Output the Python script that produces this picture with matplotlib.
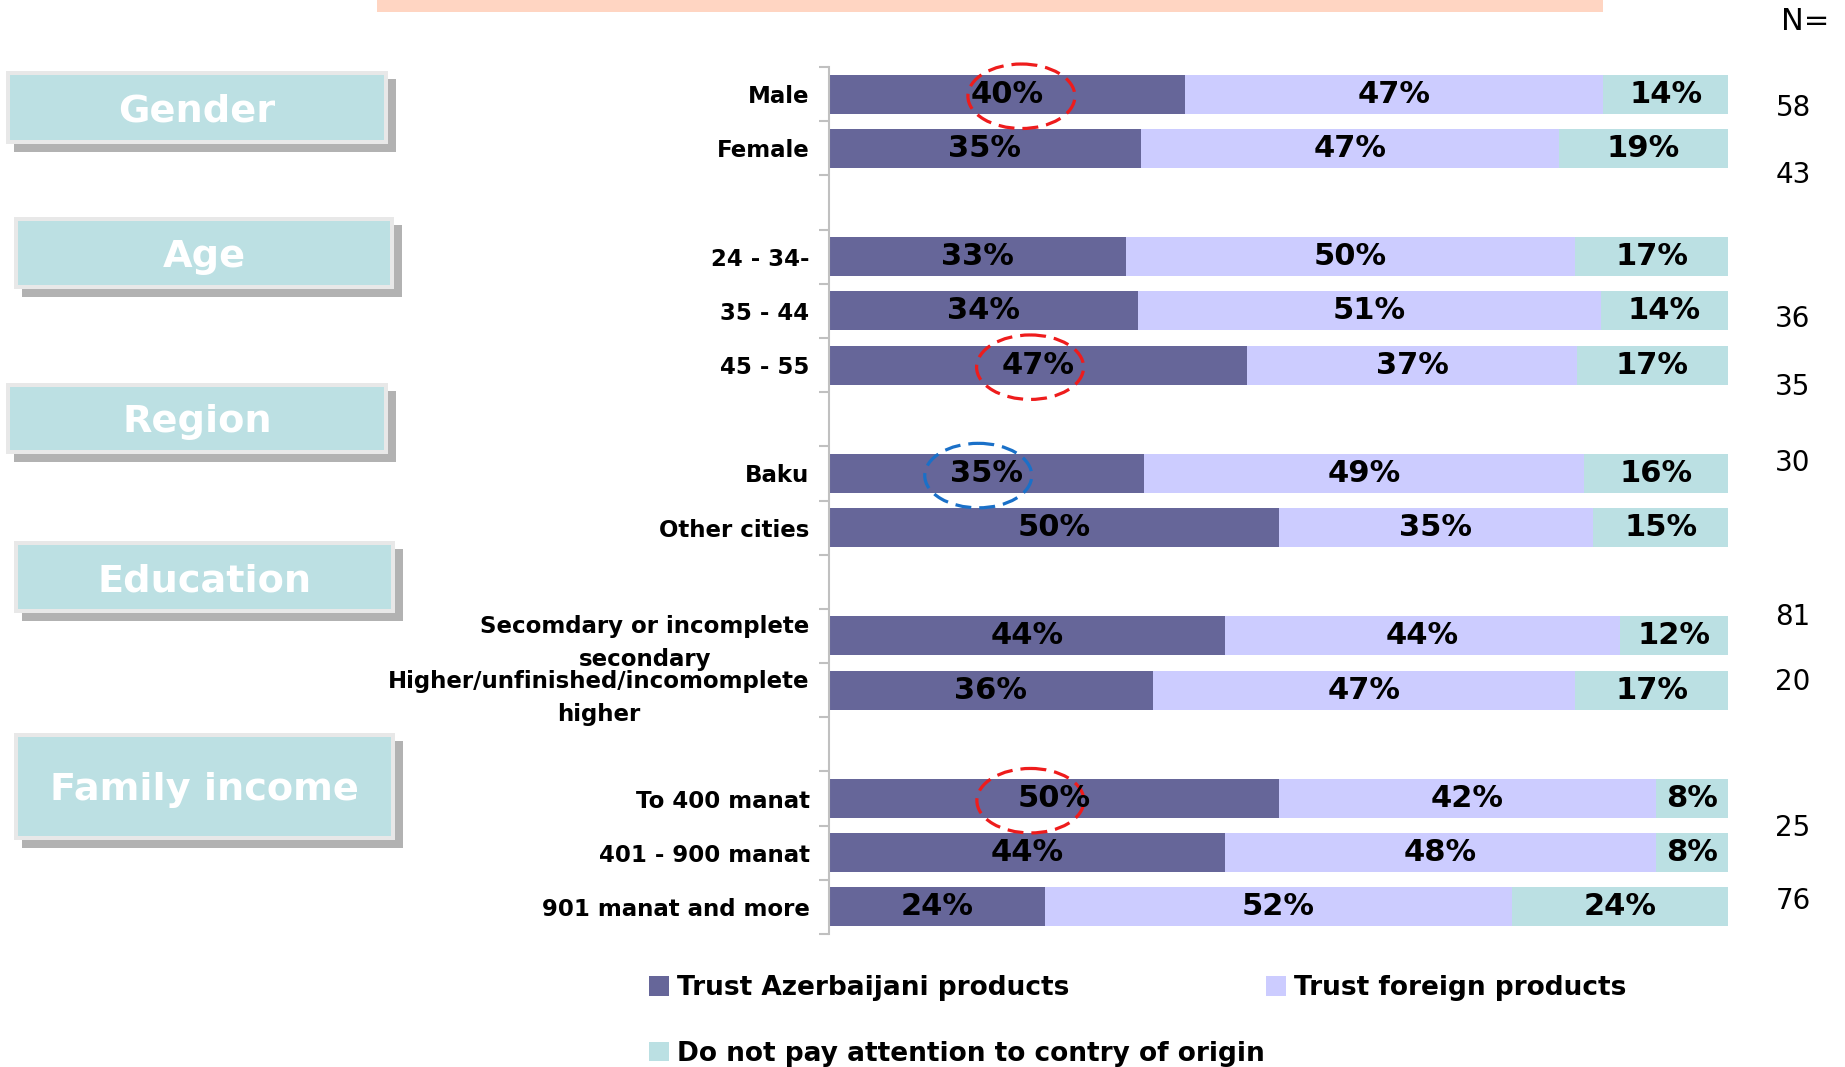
import matplotlib
matplotlib.use("Agg")
import matplotlib.pyplot as plt
from matplotlib.patches import Rectangle, Ellipse, Patch
import numpy as np

# ---------------- data ----------------
categories = ["Male", "Female", "24 - 34-", "35 - 44", "45 - 55", "Baku", "Other cities",
              "Secomdary or incomplete\nsecondary", "Higher/unfinished/incomomplete\nhigher",
              "To 400 manat", "401 - 900 manat", "901 manat and more"]
row_slots = [0, 1, 3, 4, 5, 7, 8, 10, 11, 13, 14, 15]
trust_az = [40, 35, 33, 34, 47, 35, 50, 44, 36, 50, 44, 24]
trust_foreign = [47, 47, 50, 51, 37, 49, 35, 44, 47, 42, 48, 52]
no_attention = [14, 19, 17, 14, 17, 16, 15, 12, 17, 8, 8, 24]
series_names = ["Trust Azerbaijani products", "Trust foreign products",
                "Do not pay attention to contry of origin"]
group_names = ["Gender", "Age", "Region", "Education", "Family income"]
n_values = ["58", "43", "36", "35", "30", "81", "20", "25", "76"]
n_slot_pos = [0.26, 1.5, 4.15, 5.4, 6.8, 9.65, 10.85, 13.54, 14.9]
highlight_rows = [0, 4, 5, 9]
highlight_colors = ["#ee1c1c", "#ee1c1c", "#1a70c8", "#ee1c1c"]
highlight_dx = [0.016, -0.009, -0.009, -0.026]

colors = ["#666699", "#CCCCFF", "#BBE0E3"]

W, H = 1845, 1067
fig = plt.figure(figsize=(W / 100, H / 100), dpi=100)

def fx(px):
    return px / W

def fy(py):
    return 1 - py / H

# axes
ax_left, ax_right, ax_top, ax_bot = 829, 1728, 67, 934
ax = fig.add_axes([fx(ax_left), fy(ax_bot), fx(ax_right - ax_left), (ax_bot - ax_top) / H])

vals = np.array([trust_az, trust_foreign, no_attention], dtype=float)
totals = vals.sum(axis=0)
norm = vals / totals
y = np.array(row_slots, dtype=float)
left = np.zeros(len(categories))
for i in range(3):
    c = ax.barh(y, norm[i], left=left, height=0.72, color=colors[i], label=series_names[i])
    ax.bar_label(c, labels=[f"{int(v)}%" for v in vals[i]], label_type="center",
                 fontsize=22, fontweight="bold", color="black")
    left = left + norm[i]

ax.set_xlim(0, 1)
ax.set_ylim(15.5, -0.5)
for s in ["top", "right", "bottom"]:
    ax.spines[s].set_visible(False)
ax.spines["left"].set_color("#c0c0c0")
ax.spines["left"].set_linewidth(1.5)
ax.set_xticks([])
ax.set_yticks(y)
ax.set_yticklabels(categories, fontsize=16.5, fontweight="bold", linespacing=1.55)
for lbl in ax.get_yticklabels():
    lbl.set_multialignment("center")
ax.tick_params(axis="y", which="major", length=0, pad=14)
ax.set_yticks(np.arange(-0.5, 16, 1.0), minor=True)
ax.tick_params(axis="y", which="minor", length=7, width=1.5, color="#c0c0c0")

# highlight ellipses around selected labels
for r, col, dx in zip(highlight_rows, highlight_colors, highlight_dx):
    mid = norm[0][r] / 2
    e = Ellipse((mid + dx, y[r] + 0.04), width=0.119, height=1.19, fill=False,
                edgecolor=col, linewidth=2.3, linestyle=(0, (5, 2.5)), clip_on=False)
    ax.add_patch(e)

# group boxes (pixel specs: x, y_top, w, h)
box_specs = [(6, 71, 382, 73), (14, 217, 380, 72), (6, 383, 382, 71),
             (14, 541, 381, 72), (14, 733, 381, 107)]
for name, (bx, by, bw, bh) in zip(group_names, box_specs):
    fig.add_artist(Rectangle((fx(bx + 8), fy(by + bh + 8)), fx(bw), bh / H,
                             transform=fig.transFigure, facecolor="#b2b2b2", edgecolor="none"))
    fig.add_artist(Rectangle((fx(bx), fy(by + bh)), fx(bw), bh / H,
                             transform=fig.transFigure, facecolor="#e8e8e8", edgecolor="none"))
    fig.add_artist(Rectangle((fx(bx + 4), fy(by + bh - 4)), fx(bw - 8), (bh - 8) / H,
                             transform=fig.transFigure, facecolor="#BCE0E3", edgecolor="none"))
    fig.text(fx(bx + bw / 2), fy(by + bh / 2 + 4), name, ha="center", va="center",
             fontsize=27.5, fontweight="bold", color="white")

# salmon title banner (cut off at top)
fig.add_artist(Rectangle((fx(377), fy(12)), fx(1603 - 377), 12 / H + 0.01,
                         transform=fig.transFigure, facecolor="#FFD5C2", edgecolor="none"))

# N column
fig.text(fx(1805), fy(22), "N=", ha="center", va="center", fontsize=22)
for nv, sp in zip(n_values, n_slot_pos):
    ypx = ax_top + (sp + 0.5) * (ax_bot - ax_top) / 16
    fig.text(fx(1793), fy(ypx), nv, ha="center", va="center", fontsize=20)

# legend
handles = [Patch(facecolor=colors[0]), Patch(facecolor=colors[2]), Patch(facecolor=colors[1])]
labels = [series_names[0], series_names[2], series_names[1]]
leg = fig.legend(handles, labels, loc="upper left", bbox_to_anchor=(fx(636), fy(962)),
                 ncol=2, frameon=False, prop={"size": 19, "weight": "bold"},
                 handlelength=0.75, handleheight=0.75, handletextpad=0.3,
                 columnspacing=0.05, labelspacing=1.5, borderpad=0)

fig.savefig("out.png", dpi=100)
